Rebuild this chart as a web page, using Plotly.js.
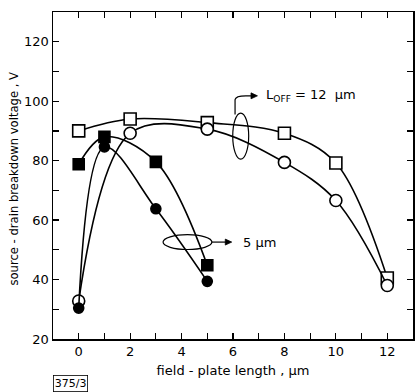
<!DOCTYPE html>
<html><head><meta charset="utf-8">
<script src="https://cdn.plot.ly/plotly-3.0.1.min.js"></script>
<style>body{margin:0;background:#fff}#c{width:415px;height:392px}</style>
</head><body><div id="c"></div>
<script>
const openX = [0, 2, 5, 8, 10, 12];
const openSquareY = [90, 94, 92.8, 89.2, 79.2, 40.5];
const openCircleY = [32.8, 89.2, 90.6, 79.4, 66.6, 38];
const filledX = [0, 1, 3, 5];
const filledSquareY = [78.8, 88, 79.6, 44.8];
const filledCircleY = [30.4, 84.6, 63.8, 39.4];
const xTickVals = [0,1,2,3,4,5,6,7,8,9,10,11,12];
const xTickText = ['0','','2','','4','','6','','8','','10','','12'];
const yTickVals = [20,30,40,50,60,70,80,90,100,110,120];
const yTickText = ['20','','40','','60','','80','','100','','120'];

function tr(x, y, sym, fill, size){
  return {x:x, y:y, mode:'lines+markers', type:'scatter', cliponaxis:false,
    line:{shape:'spline', smoothing:1, color:'#000', width:1.6},
    marker:{symbol:sym, size:size, color:fill, line:{color:'#000', width:1.6}},
    showlegend:false, hoverinfo:'skip'};
}
const data = [
  tr(openX, openSquareY, 'square', '#fff', 12),
  tr(openX, openCircleY, 'circle', '#fff', 12),
  tr(filledX, filledSquareY, 'square', '#000', 11),
  tr(filledX, filledCircleY, 'circle', '#000', 10)
];
const font = {family:'DejaVu Sans', size:13, color:'#000'};
const layout = {
  width:415, height:392,
  margin:{l:53, r:2, t:12, b:53},
  paper_bgcolor:'#fff', plot_bgcolor:'#fff',
  font: font,
  xaxis:{range:[-1,13], tickvals:xTickVals, ticktext:xTickText, ticks:'inside', ticklen:6,
    tickwidth:1.2, tickcolor:'#000', showline:true, linecolor:'#000', linewidth:1.5, mirror:'ticks',
    showgrid:false, zeroline:false, tickfont:font,
    title:{text:'field - plate length , µm', font:font, standoff:8}},
  yaxis:{range:[20,130], tickvals:yTickVals, ticktext:yTickText, ticks:'inside', ticklen:6,
    tickwidth:1.2, tickcolor:'#000', showline:true, linecolor:'#000', linewidth:1.5, mirror:'ticks',
    showgrid:false, zeroline:false, tickfont:font},
  shapes:[
    {type:'circle', xref:'x', yref:'y', x0:5.99, x1:6.61, y0:80.5, y1:96, line:{color:'#000', width:1.2}},
    {type:'circle', xref:'x', yref:'y', x0:3.28, x1:5.18, y0:50.1, y1:55.1, line:{color:'#000', width:1.2}},
    {type:'path', xref:'x', yref:'y', path:'M 6.08 95.5 L 6.08 100.5 Q 6.1 101.8 6.5 101.8 L 6.8 101.8', line:{color:'#000', width:1.2}},
    {type:'path', xref:'x', yref:'y', path:'M 6.95 101.8 L 6.7 102.8 L 6.7 100.8 Z', fillcolor:'#000', line:{color:'#000', width:0.8}},
    {type:'line', xref:'x', yref:'y', x0:5.18, x1:5.8, y0:52.6, y1:52.6, line:{color:'#000', width:1.2}},
    {type:'path', xref:'x', yref:'y', path:'M 5.95 52.6 L 5.7 53.6 L 5.7 51.6 Z', fillcolor:'#000', line:{color:'#000', width:0.8}}
  ],
  annotations:[
    {x:7.2, y:102, xref:'x', yref:'y', xanchor:'left', yanchor:'middle', showarrow:false,
      text:'L<sub>OFF</sub> = 12  µm', font:font},
    {x:6.3, y:52.6, xref:'x', yref:'y', xanchor:'left', yanchor:'middle', showarrow:false,
      text:'5 µm', font:font},
    {x:-0.107, y:0.492, xref:'paper', yref:'paper', xanchor:'center', yanchor:'middle', showarrow:false,
      textangle:-90, text:'source - drain breakdown voltage , V', font:{family:'DejaVu Sans', size:11.6, color:'#000'}},
    {x:0.0, y:-0.135, xref:'paper', yref:'paper', xanchor:'left', yanchor:'middle', showarrow:false,
      text:'375/3', font:{family:'DejaVu Sans', size:11, color:'#000'}, bordercolor:'#000', borderwidth:0.8, borderpad:1}
  ]
};
Plotly.newPlot('c', data, layout, {staticPlot:true});
</script></body></html>
